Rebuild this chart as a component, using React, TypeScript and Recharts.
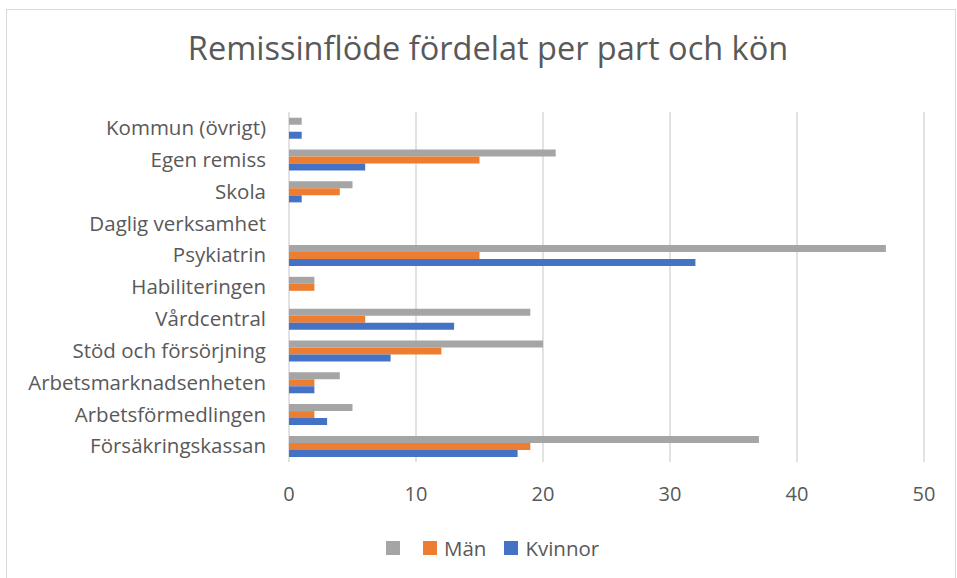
import { BarChart, Bar, XAxis, YAxis, CartesianGrid } from 'recharts';

const categories = [
  'Kommun (övrigt)',
  'Egen remiss',
  'Skola',
  'Daglig verksamhet',
  'Psykiatrin',
  'Habiliteringen',
  'Vårdcentral',
  'Stöd och försörjning',
  'Arbetsmarknadsenheten',
  'Arbetsförmedlingen',
  'Försäkringskassan',
];

const totals = [1, 21, 5, 0, 47, 2, 19, 20, 4, 5, 37];
const man = [0, 15, 4, 0, 15, 2, 6, 12, 2, 2, 19];
const kvinnor = [1, 6, 1, 0, 32, 0, 13, 8, 2, 3, 18];

const xTicks = [0, 10, 20, 30, 40, 50];

const series = [
  { key: 'total', name: '', color: '#A5A5A5' },
  { key: 'man', name: 'Män', color: '#ED7D31' },
  { key: 'kvinnor', name: 'Kvinnor', color: '#4472C4' },
];

const FONT = '"Open Sans", "Noto Sans", sans-serif';
const TEXT = '#595959';

const data = categories.map((name, i) => ({
  name,
  total: totals[i],
  man: man[i],
  kvinnor: kvinnor[i],
}));

export default function App() {
  return (
    <div
      style={{
        position: 'absolute',
        left: 0,
        top: 0,
        width: 957,
        height: 578,
        overflow: 'hidden',
        background: '#fff',
        fontFamily: FONT,
      }}
    >
      <div
        style={{
          position: 'absolute',
          left: 6,
          top: 9,
          width: 950,
          height: 600,
          border: '1.5px solid #d9d9d9',
          boxSizing: 'border-box',
        }}
      />
      <div
        style={{
          position: 'absolute',
          top: 25,
          left: 0,
          width: 976,
          textAlign: 'center',
          fontSize: 32.5,
          color: TEXT,
          whiteSpace: 'nowrap',
        }}
      >
        Remissinflöde fördelat per part och kön
      </div>
      <div style={{ position: 'absolute', left: 0, top: 0 }}>
        <BarChart
          width={957}
          height={578}
          data={data}
          layout="vertical"
          margin={{ top: 112, right: 33, left: 0, bottom: 76 }}
          barCategoryGap="18%"
          barGap={0}
        >
          <CartesianGrid horizontal={false} stroke="#d9d9d9" strokeWidth={1.5} />
          <XAxis
            type="number"
            domain={[0, 50]}
            ticks={xTicks}
            axisLine={false}
            tickLine={false}
            tickSize={0}
            tickMargin={25}
            height={40}
            tick={{ fill: TEXT, fontSize: 20, fontFamily: FONT }}
          />
          <YAxis
            type="category"
            dataKey="name"
            width={289}
            interval={0}
            axisLine={false}
            tickLine={false}
            tickSize={0}
            tickMargin={23}
            tick={{ fill: TEXT, fontSize: 20.5, fontFamily: FONT }}
          />
          {series.map((s) => (
            <Bar
              key={s.key}
              dataKey={s.key}
              name={s.name}
              fill={s.color}
              isAnimationActive={false}
            />
          ))}
        </BarChart>
      </div>
      <div
        style={{
          position: 'absolute',
          top: 534,
          left: 386,
          display: 'flex',
          alignItems: 'center',
          fontSize: 20.5,
          color: TEXT,
        }}
      >
        {series.map((s, i) => (
          <div
            key={s.key}
            style={{ display: 'flex', alignItems: 'center', marginRight: i === 0 ? 23 : 18 }}
          >
            <span
              style={{
                display: 'inline-block',
                width: 14,
                height: 14,
                background: s.color,
                marginRight: s.name ? 7 : 0,
              }}
            />
            {s.name}
          </div>
        ))}
      </div>
    </div>
  );
}
